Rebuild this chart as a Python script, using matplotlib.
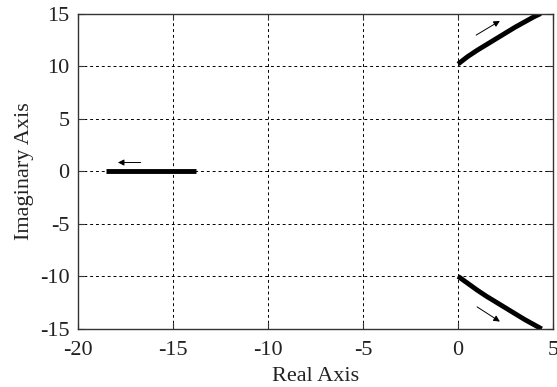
import matplotlib
matplotlib.use("Agg")
import matplotlib.pyplot as plt
import numpy as np

# Data
upper_re = [0.0, 0.5, 1.0, 1.5, 2.0, 2.5, 3.0, 3.5, 4.0, 4.35]
upper_im = [10.2, 10.9, 11.5, 12.05, 12.6, 13.15, 13.7, 14.2, 14.7, 15.0]
lower_re = [0.0, 0.5, 1.0, 1.5, 2.0, 2.5, 3.0, 3.5, 4.0, 4.4]
lower_im = [-10.0, -10.65, -11.3, -11.9, -12.45, -13.0, -13.55, -14.1, -14.6, -15.0]
real_re = [-18.5, -13.8]
real_im = [0.0, 0.0]

# arrows (tail -> head)
arrows = [((0.95, 12.95), (2.2, 14.3)),
          ((1.0, -12.9), (2.2, -14.3)),
          ((-16.7, 0.83), (-17.9, 0.83))]

xticks = [-20, -15, -10, -5, 0, 5]
yticks = [-15, -10, -5, 0, 5, 10, 15]

plt.rcParams['font.family'] = ['Liberation Serif', 'DejaVu Serif']
plt.rcParams['axes.unicode_minus'] = False

fig = plt.figure(figsize=(5.57, 3.87), dpi=100)
ax = fig.add_axes([0.140, 0.150, 0.853, 0.815])

ax.plot(upper_re, upper_im, color='black', lw=3.5, solid_capstyle='butt')
ax.plot(lower_re, lower_im, color='black', lw=3.5, solid_capstyle='butt')
ax.plot(real_re, real_im, color='black', lw=3.5, solid_capstyle='butt')

for (t, h) in arrows:
    ax.annotate('', xy=h, xytext=t,
                arrowprops=dict(arrowstyle='-|>', color='black', lw=0.7,
                                mutation_scale=9, shrinkA=0, shrinkB=0))

ax.set_xlim(-20, 5)
ax.set_ylim(-15, 15)
ax.set_xticks(xticks)
ax.set_yticks(yticks)
ax.grid(True, color='black', linestyle=(0, (3, 3)), lw=0.7)
ax.tick_params(direction='in', length=4, width=0.8, colors='#333333',
               labelcolor='#222222', labelsize=16, pad=6, top=True, right=True)
ax.tick_params(axis='x', pad=9)
for s in ax.spines.values():
    s.set_color('#333333')
    s.set_linewidth(1.0)

ax.set_xlabel('Real Axis', fontsize=16, color='#222222', labelpad=5)
ax.set_ylabel('Imaginary Axis', fontsize=16, color='#222222', labelpad=4)

fig.savefig('out.png', dpi=100)
